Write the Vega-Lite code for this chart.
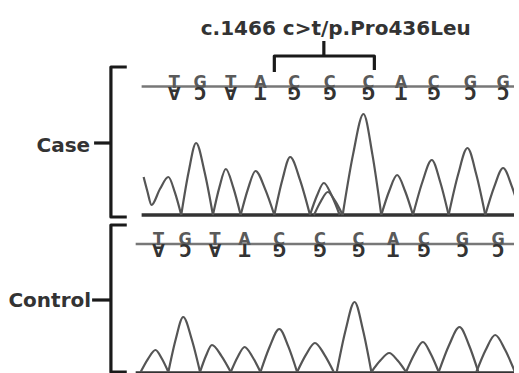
{
  "$schema": "https://vega.github.io/schema/vega-lite/v6.json",
  "width": 519,
  "height": 373,
  "autosize": {"type": "fit", "contains": "padding"},
  "padding": 0,
  "background": "white",
  "config": {"view": {"stroke": null}},
  "datasets": {
    "traces": [
      {"g":"a0","x":145,"y":177},{"g":"a0","x":149,"y":192},{"g":"a0","x":153,"y":205},{"g":"a0","x":161.5,"y":189},{"g":"a0","x":170,"y":177},{"g":"a0","x":176.5,"y":192.2},{"g":"a0","x":183,"y":215},
      {"g":"a1","x":183,"y":215},{"g":"a1","x":190.5,"y":171.8},{"g":"a1","x":198,"y":143},{"g":"a1","x":206.5,"y":171.8},{"g":"a1","x":215,"y":215},
      {"g":"a2","x":215,"y":215},{"g":"a2","x":221.5,"y":187.4},{"g":"a2","x":228,"y":169},{"g":"a2","x":235.5,"y":187.4},{"g":"a2","x":243,"y":215},
      {"g":"a3","x":243,"y":215},{"g":"a3","x":250.5,"y":188.6},{"g":"a3","x":258,"y":171},{"g":"a3","x":267.5,"y":188.6},{"g":"a3","x":277,"y":215},
      {"g":"a4","x":277,"y":215},{"g":"a4","x":285,"y":180.2},{"g":"a4","x":293,"y":157},{"g":"a4","x":303,"y":180.2},{"g":"a4","x":313,"y":215},
      {"g":"a5","x":313,"y":215},{"g":"a5","x":320,"y":195.8},{"g":"a5","x":327,"y":183},{"g":"a5","x":335,"y":195.8},{"g":"a5","x":343,"y":215},
      {"g":"a6","x":317,"y":215},{"g":"a6","x":324,"y":201.2},{"g":"a6","x":331,"y":192},{"g":"a6","x":338.5,"y":201.2},{"g":"a6","x":346,"y":215},
      {"g":"a7","x":346,"y":215},{"g":"a7","x":356.5,"y":154.4},{"g":"a7","x":367,"y":114},{"g":"a7","x":376,"y":154.4},{"g":"a7","x":385,"y":215},
      {"g":"a8","x":385,"y":215},{"g":"a8","x":393,"y":191},{"g":"a8","x":401,"y":175},{"g":"a8","x":409,"y":191},{"g":"a8","x":417,"y":215},
      {"g":"a9","x":417,"y":215},{"g":"a9","x":426.5,"y":182},{"g":"a9","x":436,"y":160},{"g":"a9","x":444.5,"y":182},{"g":"a9","x":453,"y":215},
      {"g":"a10","x":453,"y":215},{"g":"a10","x":462.5,"y":174.8},{"g":"a10","x":472,"y":148},{"g":"a10","x":481,"y":174.8},{"g":"a10","x":490,"y":215},
      {"g":"a11","x":490,"y":215},{"g":"a11","x":499,"y":186.8},{"g":"a11","x":508,"y":168},{"g":"a11","x":517,"y":186.8},{"g":"a11","x":526,"y":215},
      {"g":"b1","x":142,"y":372},{"g":"b1","x":149.5,"y":358.8},{"g":"b1","x":157,"y":350},{"g":"b1","x":163.5,"y":358.8},{"g":"b1","x":170,"y":372},
      {"g":"b2","x":170,"y":372},{"g":"b2","x":177.5,"y":339},{"g":"b2","x":185,"y":317},{"g":"b2","x":193.5,"y":339},{"g":"b2","x":202,"y":372},
      {"g":"b3","x":202,"y":372},{"g":"b3","x":208,"y":355.8},{"g":"b3","x":214,"y":345},{"g":"b3","x":223.5,"y":355.8},{"g":"b3","x":233,"y":372},
      {"g":"b4","x":233,"y":372},{"g":"b4","x":240,"y":357},{"g":"b4","x":247,"y":347},{"g":"b4","x":255,"y":357},{"g":"b4","x":263,"y":372},
      {"g":"b5","x":263,"y":372},{"g":"b5","x":272.5,"y":346.2},{"g":"b5","x":282,"y":329},{"g":"b5","x":291,"y":346.2},{"g":"b5","x":300,"y":372},
      {"g":"b6","x":300,"y":372},{"g":"b6","x":309,"y":354.6},{"g":"b6","x":318,"y":343},{"g":"b6","x":327.5,"y":354.6},{"g":"b6","x":337,"y":372},
      {"g":"b7","x":340,"y":372},{"g":"b7","x":349,"y":330},{"g":"b7","x":358,"y":302},{"g":"b7","x":366.5,"y":330},{"g":"b7","x":375,"y":372},
      {"g":"b8","x":375,"y":372},{"g":"b8","x":384,"y":360.6},{"g":"b8","x":393,"y":353},{"g":"b8","x":401.5,"y":360.6},{"g":"b8","x":410,"y":372},
      {"g":"b9","x":410,"y":372},{"g":"b9","x":418.5,"y":354},{"g":"b9","x":427,"y":342},{"g":"b9","x":435,"y":354},{"g":"b9","x":443,"y":372},
      {"g":"b10","x":443,"y":372},{"g":"b10","x":453.5,"y":345},{"g":"b10","x":464,"y":327},{"g":"b10","x":473.5,"y":345},{"g":"b10","x":483,"y":372},
      {"g":"b11","x":481,"y":372},{"g":"b11","x":490.5,"y":349.8},{"g":"b11","x":500,"y":335},{"g":"b11","x":510,"y":349.8},{"g":"b11","x":520,"y":372}
    ],
    "baselines": [
      {"g":"case","x":143,"y":215},{"g":"case","x":519,"y":215},
      {"g":"control","x":137,"y":373},{"g":"control","x":519,"y":373}
    ],
    "seqlines": [
      {"g":"case","x":143,"y":86.5},{"g":"case","x":519,"y":86.5},
      {"g":"control","x":137,"y":244},{"g":"control","x":519,"y":244}
    ],
    "braces": [
      {"g":"bracket","o":1,"x":277,"y":72},{"g":"bracket","o":2,"x":277,"y":56},{"g":"bracket","o":3,"x":378,"y":56},{"g":"bracket","o":4,"x":378,"y":70},
      {"g":"tick","o":1,"x":327,"y":56},{"g":"tick","o":2,"x":327,"y":41},
      {"g":"caseBrace","o":1,"x":128,"y":67},{"g":"caseBrace","o":2,"x":112,"y":67},{"g":"caseBrace","o":3,"x":112,"y":217},{"g":"caseBrace","o":4,"x":128,"y":217},
      {"g":"caseNotch","o":1,"x":95,"y":143},{"g":"caseNotch","o":2,"x":112,"y":143},
      {"g":"controlBrace","o":1,"x":128,"y":225},{"g":"controlBrace","o":2,"x":112,"y":225},{"g":"controlBrace","o":3,"x":112,"y":372},{"g":"controlBrace","o":4,"x":128,"y":372},
      {"g":"controlNotch","o":1,"x":93,"y":300},{"g":"controlNotch","o":2,"x":112,"y":300}
    ],
    "letters": [
      {"x":176,"y":86.5,"b":"T","c":"A"},{"x":202,"y":86.5,"b":"G","c":"C"},{"x":233,"y":86.5,"b":"T","c":"A"},{"x":263,"y":86.5,"b":"A","c":"T"},
      {"x":297,"y":86.5,"b":"C","c":"G"},{"x":333,"y":86.5,"b":"C","c":"G"},{"x":372,"y":86.5,"b":"C","c":"G"},{"x":405,"y":86.5,"b":"A","c":"T"},
      {"x":438,"y":86.5,"b":"C","c":"G"},{"x":475,"y":86.5,"b":"G","c":"C"},{"x":508,"y":86.5,"b":"G","c":"C"},
      {"x":160,"y":244,"b":"T","c":"A"},{"x":187,"y":244,"b":"G","c":"C"},{"x":217,"y":244,"b":"T","c":"A"},{"x":247,"y":244,"b":"A","c":"T"},
      {"x":282,"y":244,"b":"C","c":"G"},{"x":323,"y":244,"b":"C","c":"G"},{"x":362,"y":244,"b":"C","c":"G"},{"x":397,"y":244,"b":"A","c":"T"},
      {"x":428,"y":244,"b":"C","c":"G"},{"x":467,"y":244,"b":"G","c":"C"},{"x":503,"y":244,"b":"G","c":"C"}
    ],
    "title": [{"x":339,"y":35,"text":"c.1466 c>t/p.Pro436Leu"}],
    "labels": [{"x":91,"y":152,"text":"Case"},{"x":92,"y":307,"text":"Control"}]
  },
  "encoding": {
    "x": {"field":"x","type":"quantitative","scale":{"domain":[0,519],"nice":false,"zero":false},"axis":null},
    "y": {"field":"y","type":"quantitative","scale":{"domain":[0,373],"reverse":true,"nice":false,"zero":false},"axis":null}
  },
  "layer": [
    {"data":{"name":"baselines"},"mark":{"type":"line","stroke":"#333333","strokeWidth":3.5,"clip":true},"encoding":{"detail":{"field":"g"}}},
    {"data":{"name":"seqlines"},"mark":{"type":"line","stroke":"#777777","strokeWidth":2.5},"encoding":{"detail":{"field":"g"}}},
    {"data":{"name":"traces"},"mark":{"type":"line","interpolate":"monotone","stroke":"#555555","strokeWidth":2.2,"clip":true},"encoding":{"detail":{"field":"g"}}},
    {"data":{"name":"braces"},"mark":{"type":"line","stroke":"#1a1a1a","strokeWidth":3.2,"strokeJoin":"round","clip":true},"encoding":{"detail":{"field":"g"},"order":{"field":"o"}}},
    {"data":{"name":"letters"},"mark":{"type":"text","font":"Liberation Sans Narrow, DejaVu Sans Condensed, Liberation Sans, sans-serif","fontSize":18,"fontWeight":"bold","fill":"#5a5a5a","align":"center","baseline":"alphabetic","dy":1},"encoding":{"text":{"field":"b"}}},
    {"data":{"name":"letters"},"mark":{"type":"text","font":"Liberation Sans Narrow, DejaVu Sans Condensed, Liberation Sans, sans-serif","fontSize":18,"fontWeight":"bold","fill":"#333333","align":"center","baseline":"alphabetic","angle":180},"encoding":{"text":{"field":"c"}}},
    {"data":{"name":"title"},"mark":{"type":"text","font":"DejaVu Sans","fontSize":20,"fontWeight":"bold","fill":"#333333","align":"center","baseline":"alphabetic"},"encoding":{"text":{"field":"text"}}},
    {"data":{"name":"labels"},"mark":{"type":"text","font":"DejaVu Sans","fontSize":20,"fontWeight":"bold","fill":"#333333","align":"right","baseline":"alphabetic"},"encoding":{"text":{"field":"text"}}}
  ]
}
